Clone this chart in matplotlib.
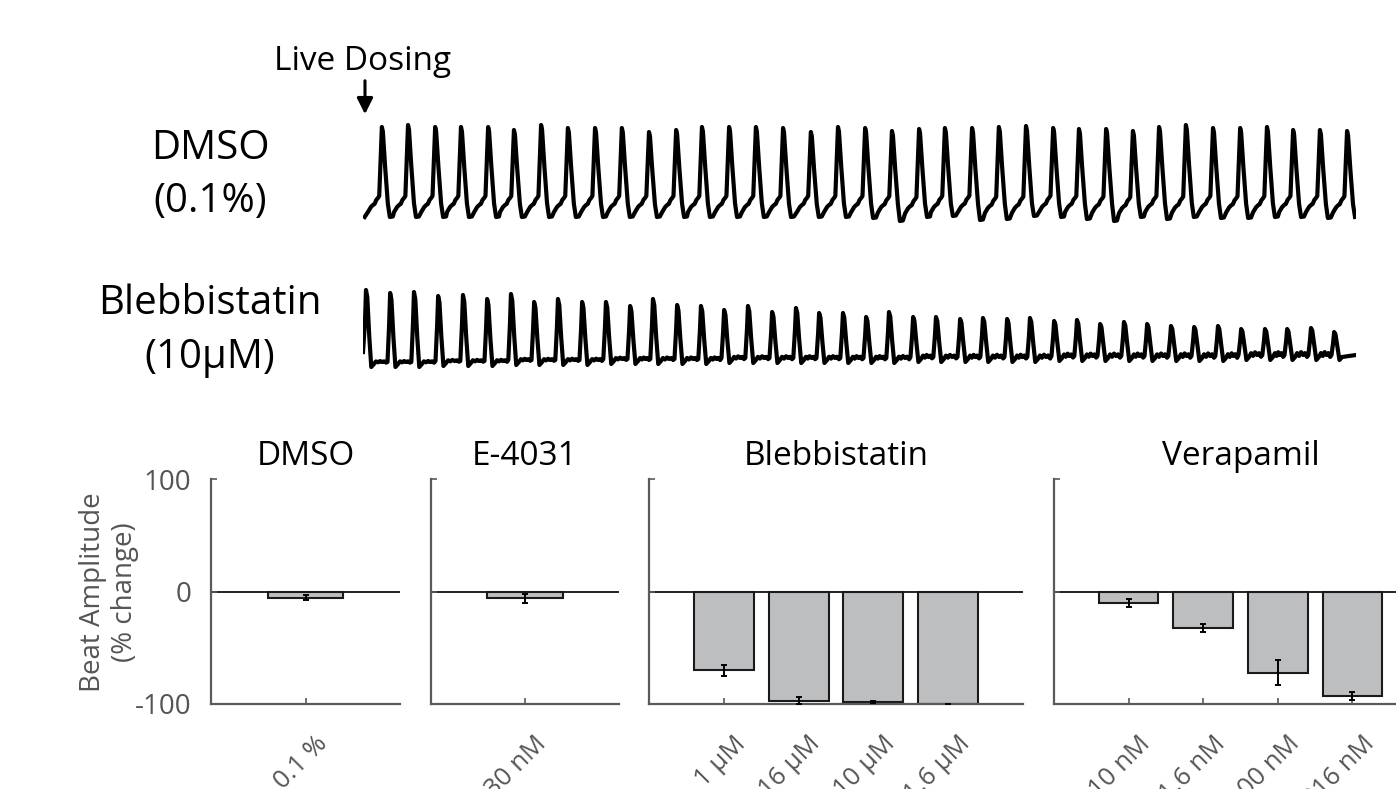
import numpy as np
import matplotlib
matplotlib.use("Agg")
import matplotlib.pyplot as plt
from matplotlib.transforms import ScaledTranslation

plt.rcParams['font.family'] = ['Open Sans', 'DejaVu Sans']

# -----------------------
# Trace data
# time in s, signal in arbitrary units
# -----------------------
dmso_peak_t = [0.57, 1.36, 2.18, 2.96, 3.78, 4.56, 5.38, 6.19, 7.01, 7.82, 8.64, 9.46,
               10.24, 11.06, 11.87, 12.69, 13.53, 14.35, 15.17, 15.98, 16.80, 17.58,
               18.40, 19.21, 20.03, 20.85, 21.63, 22.45, 23.26, 24.05, 24.86, 25.68,
               26.50, 27.31, 28.10, 28.91, 29.73]
dmso_peak_h = [90, 92, 90, 90, 90, 87, 92, 89, 89, 89, 85, 87, 90, 90, 90, 89, 85, 90,
               89, 86, 88, 89, 89, 90, 91, 89, 88, 88, 86, 90, 92, 89, 89, 90, 87, 87, 86]
dmso_trough = [0, 0, 0, 0, 0, 0, 0, 0, 0, 0, 0, 0, 0, 0, 0, 0, 0, 0,
               -1, -4, 0, 1, -3, -2, 1, 0, -2, -4, 0, -2, 0, -1, -1, 0, 0, -1, 0]

bleb_peak_t = [0.09, 0.82, 1.54, 2.27, 3.02, 3.75, 4.47, 5.17, 5.89, 6.62, 7.34, 8.07,
               8.76, 9.49, 10.21, 10.91, 11.63, 12.36, 13.08, 13.78, 14.50, 15.20,
               15.89, 16.62, 17.31, 18.04, 18.73, 19.46, 20.15, 20.88, 21.57, 22.27,
               22.99, 23.69, 24.41, 25.11, 25.83, 26.53, 27.25, 27.92, 28.64, 29.34]
bleb_peak_h = [75, 72, 73, 69, 70, 66, 71, 63, 66, 63, 63, 59, 66, 60, 59, 55, 59, 53,
               57, 52, 52, 48, 53, 48, 48, 46, 47, 46, 47, 44, 45, 41, 43, 41, 39, 38,
               39, 36, 36, 36, 37, 33]
bleb_base = [3, 3, 3, 4, 4, 4, 5, 5, 5, 5, 6, 6, 6, 6, 6, 7, 7, 7, 7, 7, 7,
             7, 7, 8, 8, 8, 8, 8, 8, 9, 9, 9, 9, 9, 9, 9, 9, 10, 10, 10, 10, 10]

# beat shapes (offsets in s, levels)
dmso_fall_dt = [0.03, 0.10, 0.18, 0.24, 0.33]
dmso_fall_f = [0.95, 0.55, 0.15]
dmso_foot_dt = [-0.42, -0.33, -0.27, -0.22, -0.17, -0.12, -0.08]
dmso_foot_v = [5, 10, 12, 13, 17, 19, 21]
bleb_wiggle = [1.0, -0.5, 1.5, 0.0, 1.0, -1.0]

# -----------------------
# Bar data
# -----------------------
panels = ["DMSO", "E-4031", "Blebbistatin", "Verapamil"]
doses = [["0.1 %"], ["30 nM"],
         ["1 \u03bcM", "3.16 \u03bcM", "10 \u03bcM", "31.6 \u03bcM"],
         ["10 nM", "31.6 nM", "100 nM", "316 nM"]]
amp = [[-5.5], [-6], [-70, -97, -98.5, -100], [-10, -32.5, -72, -93]]
amp_err = [[2], [4], [5, 3, 1, 0], [3.4, 3.5, 11, 3.7]]

W, H = 1396, 789
fig = plt.figure(figsize=(W / 100, H / 100), dpi=100)


def fx(px):
    return px / W


def fy(px):
    return 1 - px / H


# -----------------------
# DMSO trace
# -----------------------
ax_d = fig.add_axes([fx(363), fy(240), fx(993), 140 / H])
t = [0.05]
v = [0]
for i, tp in enumerate(dmso_peak_t):
    for dt, fv in zip(dmso_foot_dt, dmso_foot_v):
        if tp + dt > t[-1]:
            t.append(tp + dt)
            v.append(fv + (dmso_trough[i - 1] if i > 0 else 0) * 0.3)
    h = dmso_peak_h[i]
    t.append(tp)
    v.append(h)
    for dt, f in zip(dmso_fall_dt[:3], dmso_fall_f):
        t.append(tp + dt)
        v.append(f * h)
    t.append(tp + dmso_fall_dt[3])
    v.append(dmso_trough[i])
    if i < len(dmso_peak_t) - 1:
        t.append(tp + dmso_fall_dt[4])
        v.append(dmso_trough[i] + 0.5)
t = np.array(t)
v = np.array(v)
keep = t <= 30
ax_d.plot(t[keep], v[keep], color='black', lw=3.0, solid_joinstyle='round')
ax_d.set_xlim(0, 30)
ax_d.set_ylim(-23, 117)
ax_d.axis('off')

ax_d.annotate('', xy=(0.06, 100), xytext=(0.06, 139), xycoords='data',
              arrowprops=dict(arrowstyle='-|>', color='black', lw=2.2, mutation_scale=24),
              annotation_clip=False)
ax_d.text(0.0, 217 - 70, "Live Dosing", ha='center', va='baseline', fontsize=24,
          clip_on=False)

# -----------------------
# Blebbistatin trace
# -----------------------
ax_b = fig.add_axes([fx(363), fy(390), fx(993), 120 / H])
t = [0.0]
v = [13]
for i, tp in enumerate(bleb_peak_t):
    b = bleb_base[i]
    h = bleb_peak_h[i]
    if i > 0:
        t.append(tp - 0.08)
        v.append(b)
    t += [tp - 0.03, tp, tp + 0.04, tp + 0.1, tp + 0.16, tp + 0.24]
    v += [b + 0.55 * (h - b), h, h - 0.1 * (h - b), b + 0.35 * (h - b), b - 5, b - 2]
    if i < len(bleb_peak_t) - 1:
        t0, t1 = tp + 0.3, bleb_peak_t[i + 1] - 0.12
        n = len(bleb_wiggle)
        scale = 0.6 + 1.4 * i / len(bleb_peak_t)
        for k, w in enumerate(bleb_wiggle):
            t.append(t0 + (t1 - t0) * k / (n - 1))
            v.append(b + w * scale)
t.append(30.0)
v.append(10)
ax_b.plot(t, v, color='black', lw=3.0, solid_joinstyle='round')
ax_b.set_xlim(0, 30)
ax_b.set_ylim(-25, 95)
ax_b.axis('off')

# trace labels
fig.text(fx(210), fy(159), "DMSO", ha='center', va='baseline', fontsize=29)
fig.text(fx(210), fy(212), "(0.1%)", ha='center', va='baseline', fontsize=29)
fig.text(fx(210), fy(314), "Blebbistatin", ha='center', va='baseline', fontsize=29)
fig.text(fx(210), fy(368), "(10\u03bcM)", ha='center', va='baseline', fontsize=29)

# -----------------------
# Bar panels
# -----------------------
gray_txt = '#555555'
spine_c = '#5a5a5a'
panel_px = [(211, 400, 2), (431, 619, 2), (649, 1023, 5), (1054, 1427, 5)]

for p, (x0, x1, xmax) in enumerate(panel_px):
    ax = fig.add_axes([fx(x0), fy(704), fx(x1 - x0), 225 / H])
    pos = np.arange(1, len(amp[p]) + 1)
    ax.bar(pos, amp[p], width=0.8, color='#bcbec0', edgecolor='#1a1a1a', lw=1.5,
           zorder=2)
    ax.errorbar(pos, amp[p], yerr=amp_err[p], fmt='none', ecolor='black',
                elinewidth=1.4, capsize=2, capthick=1.4, zorder=3)
    ax.axhline(0, color='#222222', lw=1.4, zorder=1)
    ax.set_xlim(0, xmax)
    ax.set_ylim(-100, 100)
    for s in ['top', 'right']:
        ax.spines[s].set_visible(False)
    for s in ['left', 'bottom']:
        ax.spines[s].set_color(spine_c)
        ax.spines[s].set_linewidth(1.6)
    ax.set_yticks([-100, 0, 100])
    ax.tick_params(axis='both', direction='in', length=4, width=1.2, color=spine_c,
                   labelcolor=gray_txt)
    if p == 0:
        ax.set_yticklabels(['-100', '0', '100'], fontsize=20)
        ax.tick_params(axis='y', pad=14)
    else:
        ax.set_yticklabels([])
    ax.set_xticks(pos)
    ax.set_xticklabels(doses[p], rotation=45, ha='right', va='center',
                       rotation_mode='anchor', fontsize=18.5)
    ax.tick_params(axis='x', pad=26)
    off = ScaledTranslation(0.18, 0, fig.dpi_scale_trans)
    for lab in ax.get_xticklabels():
        lab.set_transform(lab.get_transform() + off)
    ax.set_title(panels[p], fontsize=24, pad=10)

fig.text(fx(109), fy(592), "Beat Amplitude\n(% change)", rotation=90, ha='center',
         va='center', multialignment='center', fontsize=20, color=gray_txt,
         linespacing=1.2)

fig.savefig('out.png', dpi=100)
